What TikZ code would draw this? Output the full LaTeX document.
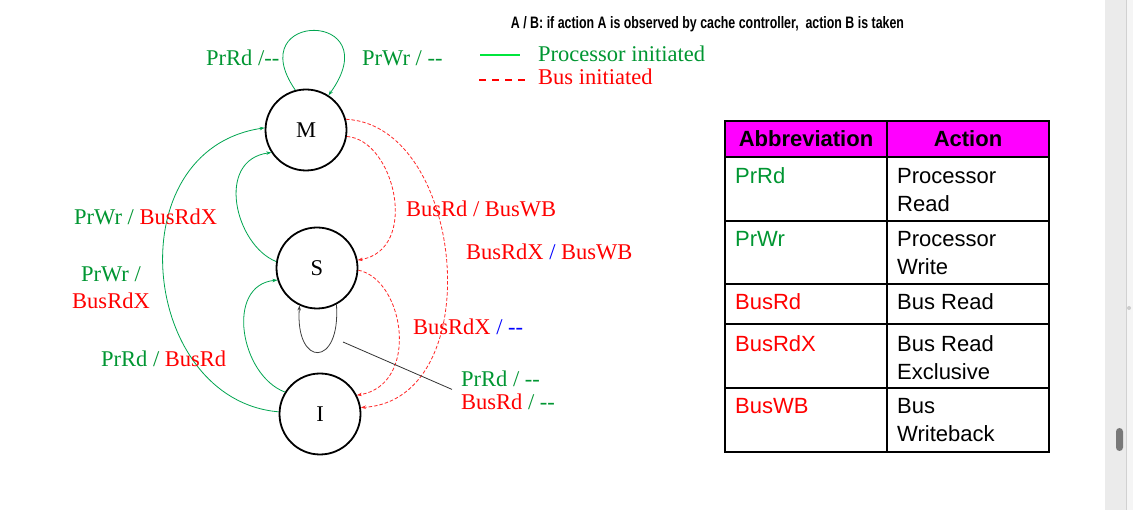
\documentclass[tikz,border=0pt]{standalone}
\usepackage{fontspec}
\usepackage{graphicx}
\setmainfont{Liberation Serif}
\newfontfamily\arialf{Liberation Sans}
\usetikzlibrary{arrows.meta}
\definecolor{tgreen}{RGB}{0,150,50}
\definecolor{lgreen}{RGB}{0,165,80}
\definecolor{limeg}{RGB}{0,230,60}
\definecolor{bred}{RGB}{255,0,0}
\definecolor{dred}{RGB}{255,40,40}
\definecolor{bblue}{RGB}{0,0,255}
\definecolor{magf}{RGB}{255,0,255}
\definecolor{scrollbg}{RGB}{235,235,235}
\definecolor{thumbc}{RGB}{120,120,120}
\newcommand{\gr}[1]{\textcolor{tgreen}{#1}}
\newcommand{\rd}[1]{\textcolor{bred}{#1}}
\newcommand{\bl}[1]{\textcolor{bblue}{#1}}
\newcommand{\dd}{\mbox{-}\mbox{-}}
\begin{document}
\begin{tikzpicture}[x=1pt,y=-1pt,
  state/.style={circle, draw=black, line width=1.8pt, minimum size=81pt, inner sep=0pt,
    font=\fontsize{22.5}{27}\selectfont},
  lbl/.style={anchor=base west, inner sep=0pt, font=\fontsize{22.5}{27}\selectfont},
  tip/.style={-{Stealth[length=5pt,width=3.5pt]}},
  proc/.style={draw=lgreen, line width=0.8pt, tip},
  bus/.style={draw=dred, line width=0.8pt, dash pattern=on 3.5pt off 2pt, tip},
  selfloop/.style={draw=black!75, line width=0.8pt, tip},
  pointer/.style={draw=black!80, line width=0.8pt},
  cell/.style={anchor=base west, inner sep=0pt, font=\arialf\fontsize{22}{28}\selectfont},
  head/.style={anchor=base, inner sep=0pt, font=\arialf\bfseries\fontsize{22}{28}\selectfont},
  grid/.style={draw=black, line width=1.6pt}
]
\useasboundingbox (0,0) rectangle (1133,510);
\fill[white] (0,0) rectangle (1133,510);

% scrollbar
\fill[scrollbg] (1105,0) rectangle (1126,510);
\fill[black!4] (1126,0) rectangle (1133,510);
\draw[black!18, line width=0.8pt] (1126,0) -- (1126,510);
\fill[thumbc, rounded corners=3.5pt] (1116,428) rectangle (1123,451);
\fill[black!20] (1129,308) circle (2pt);

% title
\node[anchor=base, inner sep=0pt] (title) at (707.5,28.3)
  {\resizebox{393pt}{12pt}{\arialf\bfseries A / B: if action A is observed by cache controller,\ \ action B is taken}};

% legend
\draw[limeg, line width=2pt] (480,55) -- (520,55);
\draw[bred, line width=1.5pt, dash pattern=on 6.5pt off 6.5pt] (479,80) -- (525,80);
\node[lbl, text=tgreen] (legp) at (538,62) {Processor initiated};
\node[lbl, text=bred] (legb) at (538,85) {Bus initiated};

% states
\node[state] (M) at (306,130) {M};
\node[state] (S) at (317,268) {S};
\node[state] (I) at (320,414) {I};

% processor-initiated transitions
\draw[proc] (M.105) .. controls (240,10) and (390,10) .. (M.57);
\draw[proc] (I.177) .. controls (140,400) and (115,150) .. (M.177);
\draw[proc] (S.171) .. controls (235,245) and (215,160) .. (M.213);
\draw[proc] (I.148) .. controls (240,375) and (225,285) .. (S.197);
\draw[selfloop] (S.298) .. controls (341,368) and (295,368) .. (S.245);

% bus-initiated transitions
\draw[bus] (M.-9) .. controls (395,140) and (420,250) .. (S.11);
\draw[bus] (M.15) .. controls (465,125) and (490,400) .. (I.9);
\draw[bus] (S.-3) .. controls (405,280) and (420,385) .. (I.27);

% labels
\node[lbl] (lprrdm) at (206,66) {\gr{PrRd /\dd}};
\node[lbl] (lprwrm) at (362,66) {\gr{PrWr / \dd}};
\node[lbl] (lsm) at (74,225) {\gr{PrWr /} \rd{BusRdX}};
\node[lbl, anchor=base] (lim) at (111,282)
  {\begin{tabular}[t]{@{}c@{}}\gr{PrWr /}\\ \rd{BusRdX}\end{tabular}};
\node[lbl] (lis) at (101,367) {\gr{PrRd /} \rd{BusRd}};
\node[lbl] (lms) at (406,217) {\rd{BusRd / BusWB}};
\node[lbl] (lmi) at (466,260) {\rd{BusRdX} \bl{/} \rd{BusWB}};
\node[lbl] (lsi) at (413,335) {\rd{BusRdX} \bl{/ \dd}};
\node[lbl] (lss) at (461,387) {\gr{PrRd / \dd}};
\node[lbl] (lss2) at (461,410) {\rd{BusRd} \gr{/ \dd}};
\coordinate (loopend) at (343,342);
\draw[pointer] ([xshift=-9pt,yshift=-2pt]lss.south west) -- (loopend);

% table
\fill[magf] (725,121) rectangle (1049,157);
\draw[grid] (725,121) rectangle (1049,452);
\draw[grid] (887,121) -- (887,452);
\foreach \yy in {157,221,284,324,388} \draw[grid] (725,\yy) -- (1049,\yy);
\node[head] (h1) at (806,147) {Abbreviation};
\node[head] (h2) at (968,147) {Action};
\node[cell, text=tgreen] (a1) at (735,184) {PrRd};
\node[cell] (b1) at (897,184) {\begin{tabular}[t]{@{}l@{}}Processor\\Read\end{tabular}};
\node[cell, text=tgreen] (a2) at (735,247) {PrWr};
\node[cell] (b2) at (897,247) {\begin{tabular}[t]{@{}l@{}}Processor\\Write\end{tabular}};
\node[cell, text=bred] (a3) at (735,310) {BusRd};
\node[cell] (b3) at (897,310) {Bus Read};
\node[cell, text=bred] (a4) at (735,352) {BusRdX};
\node[cell] (b4) at (897,352) {\begin{tabular}[t]{@{}l@{}}Bus Read\\Exclusive\end{tabular}};
\node[cell, text=bred] (a5) at (735,414) {BusWB};
\node[cell] (b5) at (897,414) {\begin{tabular}[t]{@{}l@{}}Bus\\Writeback\end{tabular}};
\end{tikzpicture}
\end{document}
